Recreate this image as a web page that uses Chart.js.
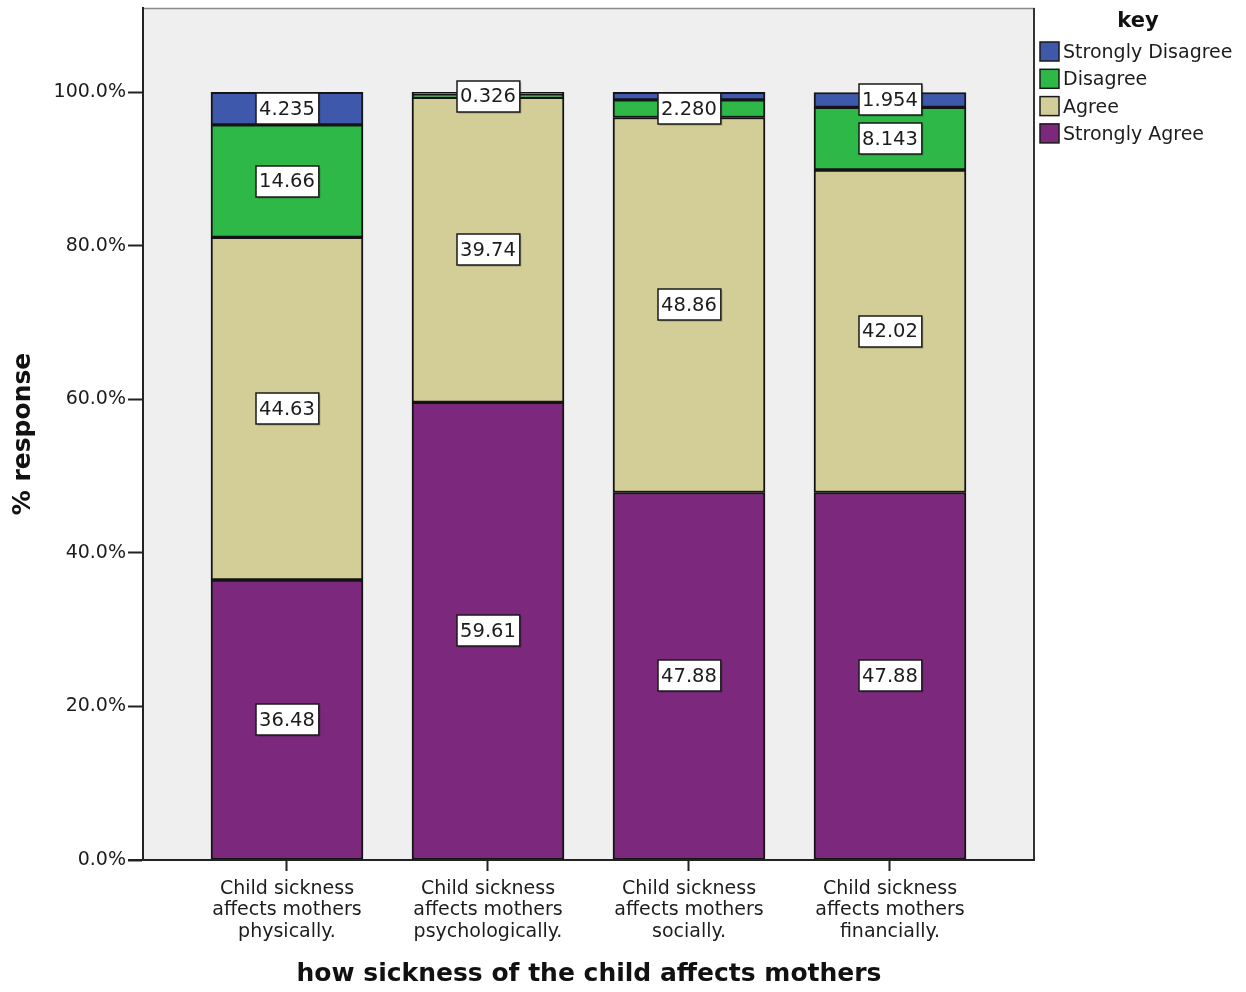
<!DOCTYPE html>
<html>
<head>
<meta charset="utf-8">
<script src="https://cdn.jsdelivr.net/npm/chart.js@4/dist/chart.umd.min.js"></script>
<style>
  html, body { margin: 0; padding: 0; background: #ffffff; }
  #wrap { width: 1246px; height: 992px; position: relative; }
</style>
</head>
<body>
<div id="wrap"><canvas id="c" width="1246" height="992"></canvas></div>
<script>
// Categories (one bar each), drawn as three-line tick labels
const categories = [
  ['Child sickness', 'affects mothers', 'physically.'],
  ['Child sickness', 'affects mothers', 'psychologically.'],
  ['Child sickness', 'affects mothers', 'socially.'],
  ['Child sickness', 'affects mothers', 'financially.']
];

// Percent of responses per category, stacked bottom to top
const stronglyAgree    = [36.48, 59.61, 47.88, 47.88];
const agree            = [44.63, 39.74, 48.86, 42.02];
const disagree         = [14.66, 0.326, 2.280, 8.143];
const stronglyDisagree = [4.235, 0.324, 0.98, 1.954];

// Text shown in each segment's label box (null = no box)
const labelStronglyAgree    = ['36.48', '59.61', '47.88', '47.88'];
const labelAgree            = ['44.63', '39.74', '48.86', '42.02'];
const labelDisagree         = ['14.66', '0.326', '2.280', '8.143'];
const labelStronglyDisagree = ['4.235', null, null, '1.954'];

const yTicks = [0, 20, 40, 60, 80, 100];

const FONT = "'DejaVu Sans', sans-serif";
const TEXT = '#1c1c1c';

function toPoints(arr) { return arr.map((v, i) => ({ x: i, y: v })); }

const datasets = [
  { label: 'Strongly Agree',    data: toPoints(stronglyAgree),    backgroundColor: '#7C287D', boxText: labelStronglyAgree },
  { label: 'Agree',             data: toPoints(agree),            backgroundColor: '#D3CE97', boxText: labelAgree },
  { label: 'Disagree',          data: toPoints(disagree),         backgroundColor: '#2EB848', boxText: labelDisagree },
  { label: 'Strongly Disagree', data: toPoints(stronglyDisagree), backgroundColor: '#3E58AC', boxText: labelStronglyDisagree }
].map(d => Object.assign(d, {
  borderColor: '#141414',
  borderWidth: 2,
  borderSkipped: false,
  barThickness: 152
}));

// Light grey plot panel with a frame
const panelPlugin = {
  id: 'panel',
  beforeDraw(chart) {
    const { ctx, chartArea: a } = chart;
    ctx.save();
    ctx.fillStyle = '#EFEFEF';
    ctx.fillRect(a.left, a.top, a.right - a.left, a.bottom - a.top);
    ctx.strokeStyle = '#8a8a8a';
    ctx.lineWidth = 1.5;
    ctx.beginPath();
    ctx.moveTo(a.left, a.top + 0.5);
    ctx.lineTo(a.right, a.top + 0.5);
    ctx.stroke();
    ctx.strokeStyle = '#333';
    ctx.lineWidth = 2;
    ctx.beginPath();
    ctx.moveTo(a.right - 1, a.top);
    ctx.lineTo(a.right - 1, a.bottom);
    ctx.stroke();
    ctx.restore();
  },
  afterDraw(chart) {
    // x axis line runs out under the y tick marks
    const { ctx, chartArea: a } = chart;
    ctx.save();
    ctx.strokeStyle = '#222';
    ctx.lineWidth = 2;
    ctx.beginPath();
    ctx.moveTo(a.left - 15, a.bottom);
    ctx.lineTo(a.right, a.bottom);
    ctx.stroke();
    ctx.restore();
  }
};

// White boxed value labels centred on each segment
const boxLabelPlugin = {
  id: 'boxLabels',
  afterDatasetsDraw(chart) {
    const { ctx } = chart;
    ctx.save();
    ctx.font = '19.5px ' + FONT;
    ctx.textAlign = 'center';
    ctx.textBaseline = 'middle';
    chart.data.datasets.forEach((ds, di) => {
      const meta = chart.getDatasetMeta(di);
      meta.data.forEach((bar, i) => {
        const txt = ds.boxText[i];
        if (!txt) return;
        const cy = (bar.y + bar.base) / 2;
        const w = ctx.measureText(txt).width + 7;
        const h = 31;
        const x0 = Math.round(bar.x - w / 2), y0 = Math.round(cy - h / 2);
        ctx.fillStyle = 'rgba(0,0,0,0.25)';
        ctx.fillRect(x0 + 1.5, y0 + 1.5, w, h);
        ctx.fillStyle = '#ffffff';
        ctx.fillRect(x0, y0, w, h);
        ctx.strokeStyle = '#1a1a1a';
        ctx.lineWidth = 1.5;
        ctx.strokeRect(x0, y0, w, h);
        ctx.fillStyle = TEXT;
        ctx.fillText(txt, bar.x, cy + 1);
      });
    });
    ctx.restore();
  }
};

// Legend block with title at the right of the plot
const keyPlugin = {
  id: 'keyLegend',
  afterDraw(chart) {
    const { ctx, chartArea: a } = chart;
    ctx.save();
    ctx.fillStyle = '#111';
    ctx.font = 'bold 21px ' + FONT;
    ctx.textAlign = 'center';
    ctx.textBaseline = 'middle';
    ctx.fillText('key', 1138, 22);
    ctx.font = '19px ' + FONT;
    ctx.textAlign = 'left';
    const items = chart.data.datasets.slice().reverse();
    items.forEach((ds, k) => {
      const cy = 51 + k * 27.3;
      const x = a.right + 5;
      ctx.fillStyle = ds.backgroundColor;
      ctx.fillRect(x, cy - 9, 19, 19);
      ctx.strokeStyle = '#1a1a1a';
      ctx.lineWidth = 1.5;
      ctx.strokeRect(x, cy - 9, 19, 19);
      ctx.fillStyle = TEXT;
      ctx.fillText(ds.label, x + 23, cy + 2);
    });
    ctx.restore();
  }
};

new Chart(document.getElementById('c'), {
  type: 'bar',
  data: { datasets },
  options: {
    responsive: false,
    animation: false,
    layout: { padding: { top: 8, right: 211, left: 0, bottom: 0 } },
    plugins: {
      legend: { display: false },
      tooltip: { enabled: false }
    },
    scales: {
      x: {
        type: 'linear',
        stacked: true,
        offset: false,
        min: -0.7164,
        max: 3.7214,
        afterBuildTicks(scale) { scale.ticks = categories.map((c, i) => ({ value: i })); },
        afterFit(scale) { scale.height = 132; scale.paddingLeft = 0; scale.paddingRight = 0; },
        ticks: {
          callback: (v) => categories[v],
          color: TEXT,
          font: { family: FONT, size: 19, lineHeight: 1.13 },
          padding: 7,
          maxRotation: 0,
          autoSkip: false
        },
        grid: { drawOnChartArea: false, drawTicks: true, tickLength: 11, color: '#222', tickWidth: 2, offset: false },
        border: { display: false },
        title: {
          display: true,
          text: 'how sickness of the child affects mothers',
          color: '#111',
          font: { family: FONT, size: 25, weight: 'bold', lineHeight: 1.2 },
          padding: { top: 0, bottom: 3 }
        }
      },
      y: {
        stacked: true,
        min: 0,
        max: 111,
        afterBuildTicks(scale) { scale.ticks = yTicks.map(v => ({ value: v })); },
        afterFit(scale) { scale.width = 143; scale.paddingTop = 0; scale.paddingBottom = 0; },
        ticks: {
          callback: (v) => v.toFixed(1) + '%',
          color: TEXT,
          font: { family: FONT, size: 19 },
          padding: 2
        },
        grid: { drawOnChartArea: false, drawTicks: true, tickLength: 15, color: '#222', tickWidth: 2 },
        border: { display: true, color: '#222', width: 2 },
        title: {
          display: true,
          text: '% response',
          color: '#111',
          font: { family: FONT, size: 25, weight: 'bold', lineHeight: 1.2 },
          padding: { top: 8, bottom: 0 }
        }
      }
    }
  },
  plugins: [panelPlugin, boxLabelPlugin, keyPlugin]
});
</script>
</body>
</html>
